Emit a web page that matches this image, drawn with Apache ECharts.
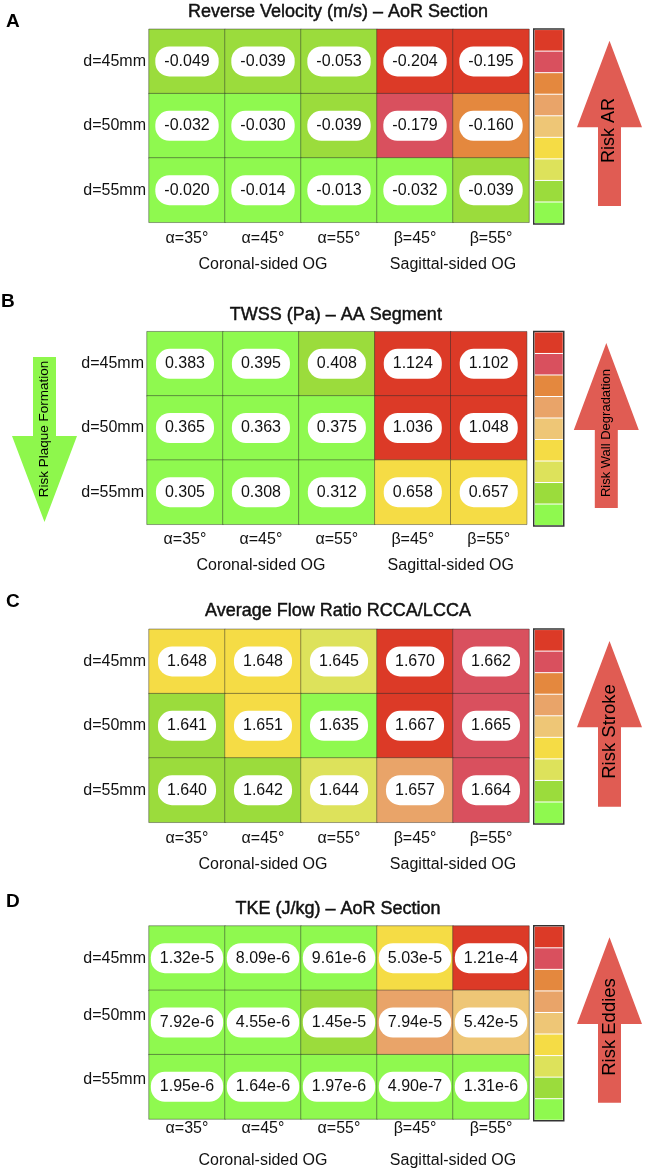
<!DOCTYPE html>
<html><head><meta charset="utf-8">
<script src="https://cdn.jsdelivr.net/npm/echarts@6/dist/echarts.min.js"></script>
<style>html,body{margin:0;padding:0;background:#fff}#c{width:646px;height:1172px}</style>
</head><body><div id="c"></div>
<script>
// ---------- data ----------
const columns = ['α=35°', 'α=45°', 'α=55°', 'β=45°', 'β=55°'];
const rows = ['d=45mm', 'd=50mm', 'd=55mm'];
const groups = ['Coronal-sided OG', 'Sagittal-sided OG'];
const panelLetters = ['A', 'B', 'C', 'D'];
const titles = ['Reverse Velocity (m/s) – AoR Section', 'TWSS (Pa) – AA Segment', 'Average Flow Ratio RCCA/LCCA', 'TKE (J/kg) – AoR Section'];
const riskLabels = ['Risk AR', 'Risk Wall Degradation', 'Risk Stroke', 'Risk Eddies'];
const plaqueLabel = 'Risk Plaque Formation';

const reverseVelocity = [
  [-0.049, -0.039, -0.053, -0.204, -0.195],
  [-0.032, -0.030, -0.039, -0.179, -0.160],
  [-0.020, -0.014, -0.013, -0.032, -0.039]
];
const twss = [
  [0.383, 0.395, 0.408, 1.124, 1.102],
  [0.365, 0.363, 0.375, 1.036, 1.048],
  [0.305, 0.308, 0.312, 0.658, 0.657]
];
const flowRatio = [
  [1.648, 1.648, 1.645, 1.670, 1.662],
  [1.641, 1.651, 1.635, 1.667, 1.665],
  [1.640, 1.642, 1.644, 1.657, 1.664]
];
const tke = [
  [1.32e-5, 8.09e-6, 9.61e-6, 5.03e-5, 1.21e-4],
  [7.92e-6, 4.55e-6, 1.45e-5, 7.94e-5, 5.42e-5],
  [1.95e-6, 1.64e-6, 1.97e-6, 4.90e-7, 1.31e-6]
];

// colour classes, low risk -> high risk
const palette = ['#8ff94f', '#9bdc3c', '#dde25b', '#f5dc45', '#eec676', '#e9a469', '#e4883e', '#d9505e', '#dc3a27'];
// class boundaries (low risk -> high risk)
const bandsAR = [-0.035, -0.06, -0.09, -0.11, -0.13, -0.15, -0.17, -0.19];
const bandsTWSS = [0.40, 0.45, 0.60, 0.70, 0.80, 0.90, 0.95, 1.00];
const bandsFlow = [1.638, 1.643, 1.646, 1.652, 1.655, 1.658, 1.660, 1.666];
const bandsTKE = [1.4e-5, 2.5e-5, 4.5e-5, 5.2e-5, 7.0e-5, 8.5e-5, 9.0e-5, 1.0e-4];

// ---------- layout ----------
const FONT = '"Liberation Sans", Arial, Helvetica, sans-serif';
const panels = [
  { values: reverseVelocity, bands: bandsAR, fmt: v => v.toFixed(3), grid: { left: 149, top: 29.3, width: 380, height: 193 }, xMargin: 16.7, groupY: 265, titleY: 12.5, letterY: 21.5, letterX: 6, yShift: [0, 0, 0] },
  { values: twss, bands: bandsTWSS, fmt: v => v.toFixed(3), grid: { left: 147, top: 331.7, width: 379.7, height: 192.6 }, xMargin: 15, groupY: 566, titleY: 315, letterY: 301.7, letterX: 1, yShift: [0, 0, 0] },
  { values: flowRatio, bands: bandsFlow, fmt: v => v.toFixed(3), grid: { left: 149, top: 629.3, width: 380, height: 193 }, xMargin: 16, groupY: 864.3, titleY: 611, letterY: 601.7, letterX: 6, yShift: [0, 0, 0] },
  { values: tke, bands: bandsTKE, fmt: v => v.toExponential(2), grid: { left: 149, top: 926, width: 380, height: 193 }, xMargin: 9.5, groupY: 1160.5, titleY: 909.3, letterY: 901.7, letterX: 6, yShift: [0, 13, 14] }
];
const arrows = [
  { cx: 609.5, tip: 40.7, base: 127.3, end: 206, textY: 130.5, size: 18 },
  { cx: 606.3, tip: 343, base: 430, end: 508, textY: 433, size: 13 },
  { cx: 609.5, tip: 641, base: 727.3, end: 806.7, textY: 731.5, size: 18.5 },
  { cx: 609.5, tip: 937.3, base: 1024, end: 1102.7, textY: 1027, size: 18.5 }
];

function makePieces(b) {
  const asc = b[1] > b[0];
  const p = [];
  for (let i = 0; i <= b.length; i++) {
    const piece = { color: palette[i] };
    if (asc) {
      if (i > 0) piece.gte = b[i - 1];
      if (i < b.length) piece.lt = b[i];
    } else {
      if (i > 0) piece.lt = b[i - 1];
      if (i < b.length) piece.gte = b[i];
    }
    p.push(piece);
  }
  return p.reverse();
}

function upArrow(cx, tip, base, end, hh, sh) {
  return [[cx, tip], [cx + hh, base], [cx + sh, base], [cx + sh, end], [cx - sh, end], [cx - sh, base], [cx - hh, base]];
}

const grids = [], xAxes = [], yAxes = [], series = [], visualMaps = [], graphics = [];

panels.forEach((p, i) => {
  grids.push(Object.assign({}, p.grid));
  xAxes.push({
    type: 'category', gridIndex: i, data: columns, position: 'bottom',
    axisLine: { show: false }, axisTick: { show: false }, splitLine: { show: false },
    axisLabel: { fontSize: 16, color: '#111', fontFamily: FONT, margin: p.xMargin, verticalAlign: 'middle' }
  });
  yAxes.push({
    type: 'category', gridIndex: i, data: rows, inverse: true,
    axisLine: { show: false }, axisTick: { show: false }, splitLine: { show: false },
    axisLabel: {
      fontSize: 16, color: '#111', fontFamily: FONT, margin: 3,
      formatter: (v, idx) => p.yShift[idx] ? '{s' + idx + '|' + v + '}' : v,
      rich: {
        s1: { fontSize: 16, color: '#111', fontFamily: FONT, padding: [0, 0, p.yShift[1], 0] },
        s2: { fontSize: 16, color: '#111', fontFamily: FONT, padding: [0, 0, p.yShift[2], 0] }
      }
    }
  });
  const data = [];
  p.values.forEach((row, r) => row.forEach((v, c) => data.push([c, r, v])));
  series.push({
    type: 'heatmap', xAxisIndex: i, yAxisIndex: i, data: data,
    itemStyle: { borderColor: 'rgba(45,45,45,0.45)', borderWidth: 1 },
    emphasis: { disabled: true },
    label: {
      show: true, formatter: prm => p.fmt(prm.value[2]),
      backgroundColor: '#fff', borderRadius: 14, padding: [7, 9, 7, 9],
      fontSize: 16, color: '#111', fontFamily: FONT
    }
  });
  const descending = p.bands[1] < p.bands[0];
  visualMaps.push({
    type: 'piecewise', seriesIndex: i, dimension: 2, orient: 'vertical',
    inverse: descending,
    left: 533, top: p.grid.top - 1, padding: 1,
    itemWidth: 28, itemHeight: (p.grid.height - 8) / 9, itemGap: 1, itemSymbol: 'rect',
    showLabel: false, selectedMode: false, hoverLink: false,
    borderColor: '#333', borderWidth: 1.5,
    pieces: makePieces(p.bands)
  });
  const g = p.grid;
  graphics.push({ type: 'text', x: p.letterX, y: p.letterY, style: { text: panelLetters[i], font: 'bold 19px ' + FONT, fill: '#000', textAlign: 'left', textVerticalAlign: 'middle' } });
  graphics.push({ type: 'text', x: g.left + g.width / 2 - 1, y: p.titleY, style: { text: titles[i], font: '18px ' + FONT, fill: '#111', stroke: '#111', lineWidth: 0.45, textAlign: 'center', textVerticalAlign: 'middle' } });
  graphics.push({ type: 'text', x: g.left + g.width * 0.3, y: p.groupY, style: { text: groups[0], font: '16px ' + FONT, fill: '#111', textAlign: 'center', textVerticalAlign: 'middle' } });
  graphics.push({ type: 'text', x: g.left + g.width * 0.8, y: p.groupY, style: { text: groups[1], font: '16px ' + FONT, fill: '#111', textAlign: 'center', textVerticalAlign: 'middle' } });
  const a = arrows[i];
  graphics.push({ type: 'polygon', shape: { points: upArrow(a.cx, a.tip, a.base, a.end, 32.5, 11.5) }, style: { fill: '#e05c53' }, silent: true });
  graphics.push({ type: 'text', x: a.cx, y: a.textY, rotation: Math.PI / 2, style: { text: riskLabels[i], font: a.size + 'px ' + FONT, fill: '#000', textAlign: 'center', textVerticalAlign: 'middle' } });
});

// green downward arrow (panel B)
graphics.push({ type: 'polygon', shape: { points: [[44.5, 522], [77, 436], [56, 436], [56, 357], [33, 357], [33, 436], [12, 436]] }, style: { fill: '#8ef74c' }, silent: true });
graphics.push({ type: 'text', x: 44.5, y: 429, rotation: Math.PI / 2, style: { text: plaqueLabel, font: '13.5px ' + FONT, fill: '#000', textAlign: 'center', textVerticalAlign: 'middle' } });

const chart = echarts.init(document.getElementById('c'), null, { renderer: 'canvas' });
chart.setOption({
  animation: false,
  backgroundColor: '#fff',
  textStyle: { fontFamily: FONT },
  grid: grids, xAxis: xAxes, yAxis: yAxes, visualMap: visualMaps, series: series,
  graphic: graphics
});
</script></body></html>
